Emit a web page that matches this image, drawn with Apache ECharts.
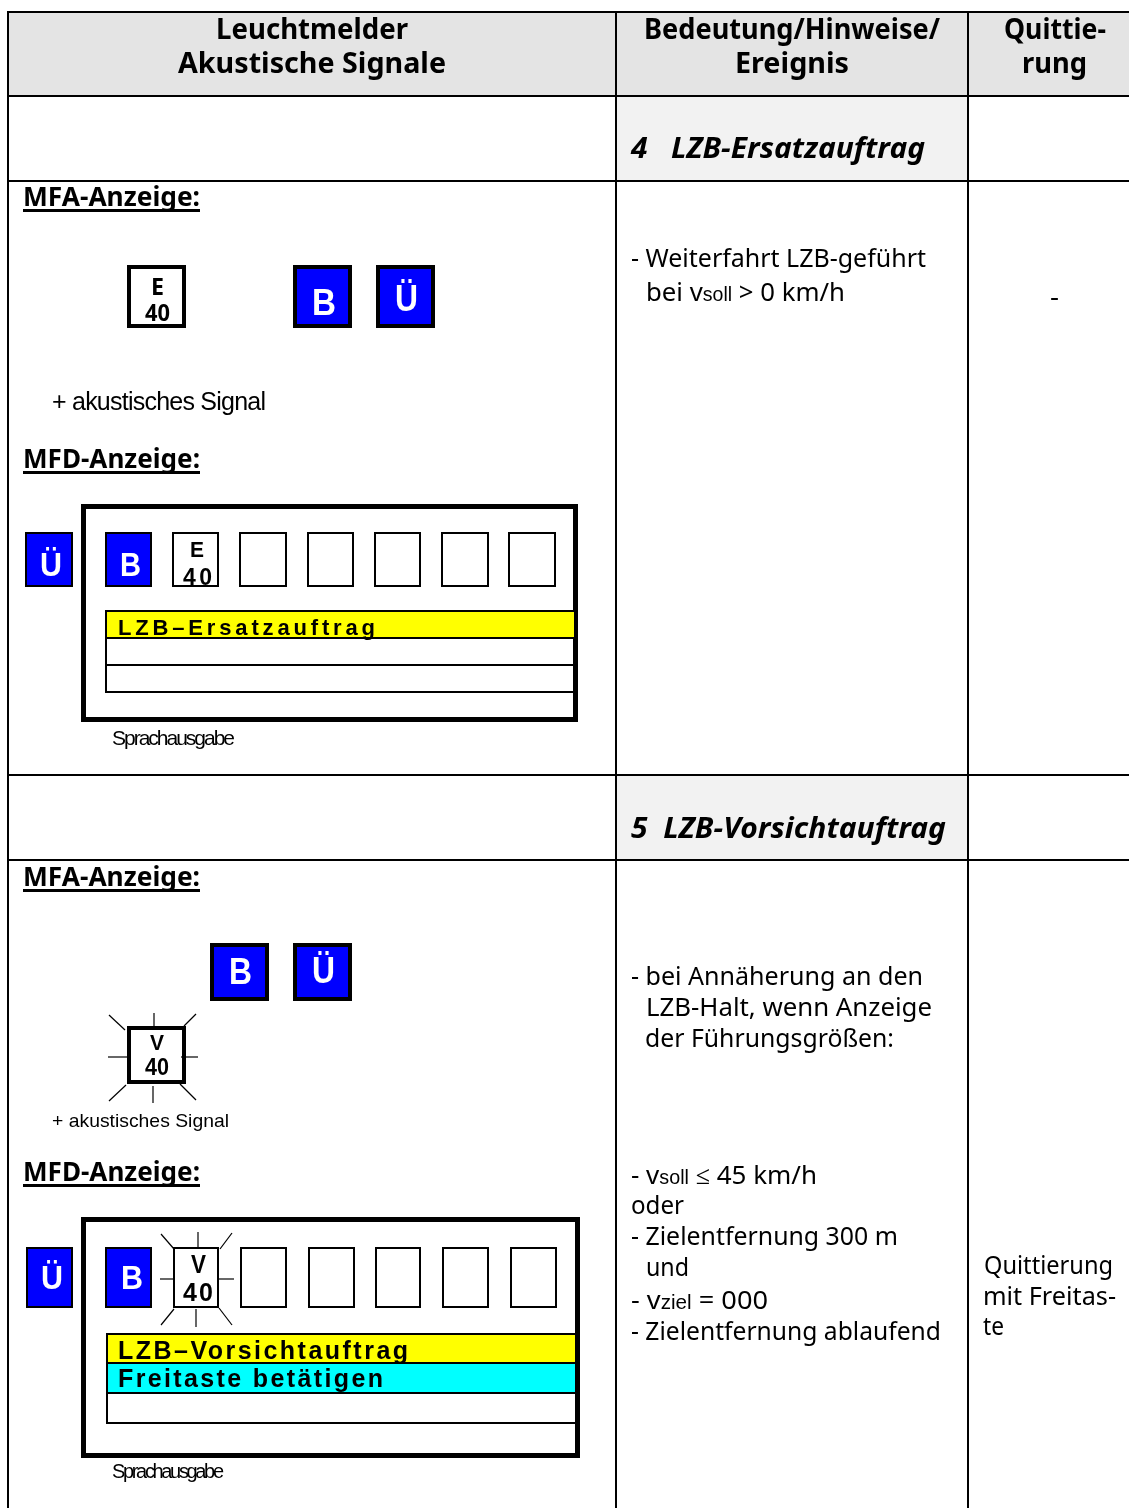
<!DOCTYPE html>
<html><head><meta charset="utf-8">
<style>html,body{margin:0;padding:0;background:#fff}#c{width:1129px;height:1508px}</style>
<script src="https://cdn.jsdelivr.net/npm/echarts@6/dist/echarts.min.js"></script>
</head><body><div id="c"></div>
<script>
const headerCol1 = ['Leuchtmelder', 'Akustische Signale'];
const headerCol2 = ['Bedeutung/Hinweise/', 'Ereignis'];
const headerCol3 = ['Quittie-', 'rung'];
const sectionTitles = ['4   LZB-Ersatzauftrag', '5  LZB-Vorsichtauftrag'];
const panelTitles = ['MFA-Anzeige:', 'MFD-Anzeige:'];
const acoustic = '+ akustisches Signal';
const speech = 'Sprachausgabe';
const messagesE = ['LZB–Ersatzauftrag'];
const messagesV = ['LZB–Vorsichtauftrag', 'Freitaste betätigen'];
const notesE = ['- Weiterfahrt LZB-geführt', 'bei v{s|soll} > 0 km/h'];
const notesV1 = ['- bei Annäherung an den', 'LZB-Halt, wenn Anzeige', 'der Führungsgrößen:'];
const notesV2 = ['- v{s|soll} ≤ 45 km/h', 'oder', '- Zielentfernung 300 m', 'und', '- v{s|ziel} = 000', '- Zielentfernung ablaufend'];
const ackE = '-';
const ackV = ['Quittierung', 'mit Freitas-', 'te'];

const BODY = '"Noto Sans"', ARIAL = '"Liberation Sans"';
const BLUE = '#0000ff';
const mctx = document.createElement('canvas').getContext('2d');
const spacingMap = {};
const origFill = CanvasRenderingContext2D.prototype.fillText;
CanvasRenderingContext2D.prototype.fillText = function (t, x, y, m) {
  if ('letterSpacing' in this) this.letterSpacing = spacingMap[this.font + '|' + t] || '0px';
  return m === undefined ? origFill.call(this, t, x, y) : origFill.call(this, t, x, y, m);
};
const g = [];
function rect(x0, y0, x1, y1, fill) {
  g.push({ type: 'rect', silent: true, shape: { x: x0, y: y0, width: x1 - x0, height: y1 - y0 }, style: { fill: fill } });
}
function box(x0, y0, x1, y1, lw, fill) {
  rect(x0, y0, x1, y1, '#000');
  rect(x0 + lw, y0 + lw, x1 - lw, y1 - lw, fill || '#fff');
}
function ray(a, b, c, d) {
  g.push({ type: 'line', silent: true, shape: { x1: a, y1: b, x2: c, y2: d }, style: { stroke: '#000', lineWidth: 1.2 } });
}
function measure(plain, font) { mctx.font = font; return mctx.measureText(plain).width; }
// text spanning x0..x1 around centre line y. 'space' tracks the letters, otherwise it is stretched
function text(str, x0, x1, y, size, o) {
  o = o || {};
  const family = o.family || BODY;
  const font = (o.italic ? 'italic ' : '') + (o.bold ? 'bold ' : '') + size + 'px ' + family;
  const smallFont = size * 0.76 + 'px ' + ARIAL;
  let width = 0;
  str.split(/(\{s\|[^}]*\})/).forEach(p => {
    const m = p.match(/^\{s\|(.*)\}$/);
    width += m ? measure(m[1], smallFont) : measure(p, font);
  });
  let sx = (x1 - x0) / width;
  if (o.space) {
    measure(str, font);
    spacingMap[mctx.font + '|' + str] = ((x1 - x0 - width) / (str.length - 1)).toFixed(2) + 'px';
    sx = 1;
  }
  const style = { text: str, font: font, fill: o.color || '#000', align: 'left', verticalAlign: 'middle' };
  if (str.indexOf('{s|') >= 0) style.rich = { s: { font: smallFont, fill: '#000', verticalAlign: 'bottom', lineHeight: size * 1.15, padding: [0, 0, 3, 0] } };
  g.push({ type: 'text', silent: true, x: x0, y: y + 2, scaleX: sx, style: style });
}

// table backgrounds
rect(8, 11, 1129, 96, '#e4e4e4');
rect(616, 96, 968, 181, '#f2f2f2');
rect(616, 775, 968, 860, '#f2f2f2');
// table rules
[[11, 13], [95, 97], [180, 182], [774, 776], [859, 861]].forEach(r => rect(7, r[0], 1129, r[1], '#000'));
[[7, 9], [615, 617], [967, 969]].forEach(c => rect(c[0], 11, c[1], 1508, '#000'));

// headers
text(headerCol1[0], 216, 408, 29, 28, { bold: true });
text(headerCol1[1], 178, 446, 63, 28, { bold: true });
text(headerCol2[0], 644, 940, 29, 28, { bold: true });
text(headerCol2[1], 735, 849, 63, 28, { bold: true });
text(headerCol3[0], 1004, 1106, 29, 28, { bold: true });
text(headerCol3[1], 1022, 1087, 63, 28, { bold: true });
text(sectionTitles[0], 631, 925, 148, 28, { bold: true, italic: true });
text(sectionTitles[1], 631, 946, 828, 28, { bold: true, italic: true });

// panel captions
function caption(str, y) {
  text(str, 23, 200, y, 26, { bold: true });
  rect(23, y + 12, 200, y + 15, '#000');
}
caption(panelTitles[0], 197);
caption(panelTitles[1], 459);
caption(panelTitles[0], 877);
caption(panelTitles[1], 1172);

function lamp(ch, x0, x1, y0, y1, lw, tw, ty, size) {
  box(x0, y0, x1, y1, lw, BLUE);
  text(ch, tw[0], tw[1], ty, size, { bold: true, family: ARIAL, color: '#fff' });
}
// section 4, MFA
box(127, 265, 186, 328, 4);
text('E', 151, 164, 286, 24, { bold: true });
text('40', 145, 170, 312, 24, { bold: true });
lamp('B', 293, 352, 265, 328, 4, [312, 336], 303, 36);
lamp('Ü', 376, 435, 265, 328, 4, [395, 418], 299, 36);
text(acoustic, 52, 266, 401, 25, { family: ARIAL, space: true });

// section 4, MFD
box(81, 504, 578, 722, 5);
lamp('Ü', 25, 73, 532, 587, 2, [40, 62], 565, 34);
lamp('B', 105, 152, 532, 587, 2, [120, 141], 565, 34);
box(172, 532, 219, 587, 2);
text('E', 190, 204, 549, 22, { bold: true, family: ARIAL });
text('40', 183, 212, 577, 23, { bold: true, space: true, family: ARIAL });
[[239, 287], [307, 354], [374, 421], [441, 489], [508, 556]].forEach(b => box(b[0], 532, b[1], 587, 2));
rect(105, 610, 574, 613, '#000');
rect(107, 612, 574, 637, '#ffff00');
rect(105, 637, 574, 639, '#000');
rect(105, 664, 574, 666, '#000');
rect(105, 691, 574, 693, '#000');
rect(105, 610, 107, 693, '#000');
text(messagesE[0], 118, 375, 627, 22, { bold: true, space: true, family: ARIAL });
text(speech, 112, 235, 737, 21, { family: ARIAL, space: true });

// section 5, MFA
lamp('B', 210, 269, 943, 1001, 4, [229, 252], 972, 36);
lamp('Ü', 293, 352, 943, 1001, 4, [312, 335], 971, 36);
box(127, 1026, 186, 1084, 4);
[[154, 1013, 154, 1030], [109, 1015, 125, 1030], [196, 1014, 184, 1026], [108, 1057, 127, 1057],
 [181, 1057, 198, 1057], [109, 1101, 126, 1085], [153, 1086, 153, 1103], [180, 1084, 196, 1100]].forEach(r => ray.apply(null, r));
text('V', 150, 164, 1042, 22, { bold: true, family: ARIAL });
text('40', 145, 169, 1066, 24, { bold: true, family: ARIAL });
text(acoustic, 52, 229, 1120, 19, { family: ARIAL });

// section 5, MFD
box(81, 1217, 580, 1458, 5);
lamp('Ü', 26, 73, 1247, 1308, 2, [41, 63], 1278, 34);
lamp('B', 105, 152, 1247, 1308, 2, [121, 143], 1278, 34);
box(173, 1247, 219, 1308, 2);
[[198, 1232, 198, 1247], [161, 1234, 174, 1249], [232, 1233, 220, 1249], [160, 1279, 174, 1279],
 [219, 1279, 234, 1279], [161, 1325, 174, 1309], [196, 1309, 196, 1327], [219, 1308, 232, 1325]].forEach(r => ray.apply(null, r));
text('V', 191, 206, 1264, 25, { bold: true, family: ARIAL });
text('40', 183, 213, 1292, 25, { bold: true, space: true, family: ARIAL });
[[240, 287], [308, 355], [375, 421], [442, 489], [510, 557]].forEach(b => box(b[0], 1247, b[1], 1308, 2));
rect(106, 1333, 575, 1363, '#ffff00');
rect(106, 1363, 575, 1393, '#00ffff');
[1333, 1362, 1392, 1422].forEach(y => rect(106, y, 575, y + 2, '#000'));
rect(106, 1333, 108, 1424, '#000');
text(messagesV[0], 118, 408, 1350, 25, { bold: true, space: true, family: ARIAL });
text(messagesV[1], 118, 383, 1378, 25, { bold: true, space: true, family: ARIAL });
text(speech, 112, 224, 1470, 20, { family: ARIAL, space: true });

// notes
text(notesE[0], 631, 926, 258, 26);
text(notesE[1], 646, 845, 292, 26);
text(ackE, 1050, 1059, 297, 26);
text(notesV1[0], 631, 923, 976, 26);
text(notesV1[1], 646, 932, 1007, 26);
text(notesV1[2], 645, 894, 1038, 26);
text(notesV2[0], 631, 817, 1175, 26);
text(notesV2[1], 631, 684, 1205, 26);
text(notesV2[2], 631, 898, 1236, 26);
text(notesV2[3], 646, 689, 1267, 26);
text(notesV2[4], 631, 768, 1300, 26);
text(notesV2[5], 631, 941, 1331, 26);
text(ackV[0], 984, 1113, 1265, 26);
text(ackV[1], 983, 1116, 1296, 26);
text(ackV[2], 983, 1004, 1326, 26);

const chart = echarts.init(document.getElementById('c'), null, { renderer: 'canvas' });
chart.setOption({ animation: false, backgroundColor: '#fff', graphic: { elements: g } });
</script>
</body></html>
